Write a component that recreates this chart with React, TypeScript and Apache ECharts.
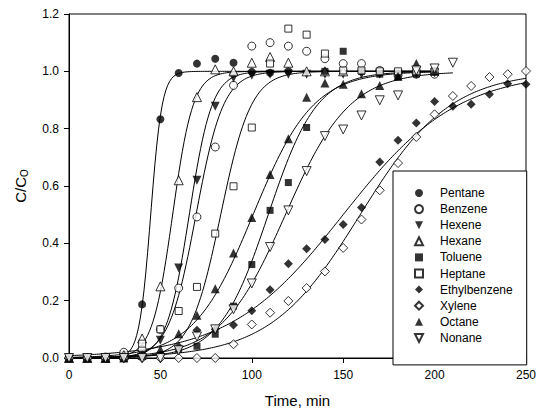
import React, { useEffect, useRef } from "react";
import * as echarts from "echarts";

// ---- data: [time (min), C/C0] ----
const seriesNames = ["Pentane", "Benzene", "Hexene", "Hexane", "Toluene", "Heptane", "Ethylbenzene", "Xylene", "Octane", "Nonane"];

const pentane = [[0, 0], [10, 0], [20, 0.005], [30, 0.01], [40, 0.187], [50, 0.833], [60, 0.994], [70, 1.027], [80, 1.044], [90, 1.03], [100, 0.998], [110, 0.995], [120, 1.0]];
const benzene = [[0, 0], [10, 0], [20, 0], [30, 0.02], [40, 0.03], [50, 0.1], [60, 0.244], [70, 0.492], [80, 0.736], [90, 0.951], [100, 1.088], [110, 1.1], [120, 1.088], [130, 1.07], [140, 1.044], [150, 1.027], [160, 1.027], [170, 1.003], [180, 0.986], [190, 0.99], [200, 0.99]];
const hexene = [[0, 0], [10, 0], [20, 0], [30, 0], [40, 0.01], [50, 0.062], [60, 0.314], [70, 0.62], [80, 0.878], [90, 0.977], [100, 0.986], [110, 0.99], [120, 0.99], [130, 0.99], [140, 0.99], [150, 0.99], [160, 0.99], [170, 0.99], [180, 0.99], [190, 0.99], [200, 0.995]];
const hexane = [[0, 0], [10, 0], [20, 0], [30, 0.01], [40, 0.068], [50, 0.25], [60, 0.62], [70, 0.91], [80, 1.007], [90, 1.0], [100, 1.03], [110, 1.05], [120, 1.03], [130, 1.0], [140, 1.0], [150, 1.0]];
const toluene = [[0, 0], [10, 0], [20, 0], [30, 0], [40, 0.005], [50, 0.01], [60, 0.03], [70, 0.041], [80, 0.083], [90, 0.181], [100, 0.326], [110, 0.515], [120, 0.612], [130, 0.804], [140, 1.0], [150, 1.07], [160, 1.0], [170, 0.99], [180, 0.98], [190, 0.99], [200, 1.0]];
const heptane = [[0, 0], [10, 0], [20, 0], [30, 0], [40, 0.05], [50, 0.1], [60, 0.164], [70, 0.248], [80, 0.434], [90, 0.599], [100, 0.804], [110, 1.027], [120, 1.149], [130, 1.128], [140, 1.062], [150, 1.003], [160, 1.003], [170, 1.0], [180, 1.0], [190, 1.0], [200, 1.0]];
const ethylbenzene = [[0, 0], [10, 0], [20, 0], [30, 0], [40, 0], [50, 0.01], [60, 0.04], [70, 0.097], [80, 0.1], [90, 0.115], [100, 0.165], [110, 0.238], [120, 0.329], [130, 0.381], [140, 0.413], [150, 0.466], [160, 0.525], [170, 0.684], [180, 0.76], [190, 0.82], [200, 0.895], [210, 0.878], [220, 0.885], [230, 0.92], [240, 0.957], [250, 0.955]];
const xylene = [[0, 0], [10, 0], [20, 0], [30, 0], [40, 0], [50, 0], [60, 0], [70, 0], [80, 0], [90, 0.048], [100, 0.117], [110, 0.158], [120, 0.199], [130, 0.244], [140, 0.302], [150, 0.384], [160, 0.483], [170, 0.585], [180, 0.68], [190, 0.771], [200, 0.85], [210, 0.914], [220, 0.949], [230, 0.98], [240, 0.99], [250, 1.001]];
const octane = [[0, 0], [10, 0], [20, 0], [30, 0], [40, 0.01], [50, 0.03], [60, 0.085], [70, 0.149], [80, 0.242], [90, 0.366], [100, 0.49], [110, 0.64], [120, 0.765], [130, 0.91], [140, 0.959], [150, 0.955], [160, 0.922], [170, 0.951], [180, 0.983], [190, 1.027], [200, 1.0]];
const nonane = [[0, 0], [10, 0], [20, 0], [30, 0], [40, 0], [50, 0], [60, 0.027], [70, 0.075], [80, 0.1], [90, 0.17], [100, 0.26], [110, 0.387], [120, 0.515], [130, 0.652], [140, 0.774], [150, 0.797], [160, 0.846], [170, 0.899], [180, 0.916], [190, 1.003], [200, 1.01], [210, 1.03]];

const seriesData = [pentane, benzene, hexene, hexane, toluene, heptane, ethylbenzene, xylene, octane, nonane];

// fitted breakthrough curves (logistic / Thomas model), parameters
const fitT50 = [44.7, 69.5, 65.8, 56.7, 109, 83, 150, 159.3, 100.7, 118.4];
const fitRate = [0.32, 0.134, 0.161, 0.179, 0.075, 0.12, 0.032, 0.0406, 0.061, 0.057];
const fitEnd = [200, 200, 200, 200, 200, 200, 250, 250, 200, 210];

const xTicks = { min: 0, max: 250, interval: 50 };
const yTicks = { min: 0, max: 1.2, interval: 0.2 };

// ---- styles ----
const DOWN_TRI = "path://M0,0L2,0L1,2Z";
const markerSymbol = ["circle", "circle", DOWN_TRI, "triangle", "rect", "rect", "diamond", "diamond", "triangle", DOWN_TRI];
const markerFilled = [true, false, true, false, true, false, true, false, true, false];
const markerSize = [8, 8, 9, 9, 7, 7, 9, 9, 9, 9];

const FONT = "'Liberation Sans', Arial, sans-serif";

function fitCurve(i: number) {
  const pts: number[][] = [];
  for (let t = 0; t <= fitEnd[i]; t += 1) {
    pts.push([t, 1 / (1 + Math.exp(-fitRate[i] * (t - fitT50[i])))]);
  }
  return pts;
}

export default function App() {
  const ref = useRef<HTMLDivElement>(null);
  useEffect(() => {
    if (!ref.current) return;
    const chart = echarts.init(ref.current, undefined, { renderer: "svg" });
    const lines = seriesNames.map((n, i) => ({
      name: n + " fit",
      type: "line",
      data: fitCurve(i),
      showSymbol: false,
      symbol: "none",
      smooth: false,
      lineStyle: { color: "#000", width: 1 },
      z: 2,
      silent: true,
    }));
    const points = seriesNames.map((n, i) => ({
      name: n,
      type: "scatter",
      data: seriesData[i],
      symbol: markerSymbol[i],
      symbolSize: markerSize[i],
      itemStyle: markerFilled[i]
        ? { color: "#000", borderColor: "#000", borderWidth: 0 }
        : { color: "#fff", borderColor: "#000", borderWidth: 1 },
      z: 3,
    }));
    chart.setOption({
      animation: false,
      textStyle: { fontFamily: FONT, color: "#000" },
      grid: { left: 69, right: 10, top: 14, bottom: 56, show: true, borderColor: "#000", borderWidth: 1, backgroundColor: "transparent" },
      legend: {
        data: seriesNames,
        orient: "vertical",
        left: 393,
        top: 171,
        itemWidth: 8,
        itemHeight: 8,
        itemGap: 4.1,
        padding: [16, 14, 21, 21],
        borderColor: "#000",
        borderWidth: 1,
        backgroundColor: "#fff",
        textStyle: { fontSize: 12, fontFamily: FONT, color: "#000", padding: [0, 0, 0, 12] },
        selectedMode: false,
      },
      xAxis: {
        type: "value",
        ...xTicks,
        name: "Time, min",
        nameLocation: "middle",
        nameGap: 35,
        nameTextStyle: { fontSize: 15, fontFamily: FONT, color: "#000" },
        axisLine: { show: true, lineStyle: { color: "#000", width: 1 } },
        axisTick: { show: true, inside: false, length: 5, lineStyle: { color: "#000" } },
        axisLabel: { fontSize: 12, color: "#000", margin: 11, fontFamily: FONT },
        splitLine: { show: false },
      },
      yAxis: {
        type: "value",
        ...yTicks,
        name: "{a|C/C}{b|O}",
        nameLocation: "middle",
        nameGap: 40,
        nameTextStyle: {
          fontFamily: FONT,
          color: "#000",
          rich: {
            a: { fontSize: 15, fontFamily: FONT, color: "#000" },
            b: { fontSize: 10, fontFamily: FONT, color: "#000", padding: [7, 0, 0, 0] },
          },
        },
        axisLine: { show: true, lineStyle: { color: "#000", width: 1 } },
        axisTick: { show: true, inside: false, length: 5, lineStyle: { color: "#000" } },
        axisLabel: { fontSize: 12, color: "#000", margin: 10, fontFamily: FONT, formatter: (v: number) => v.toFixed(1) },
        splitLine: { show: false },
      },
      series: [...lines, ...points],
    });
    return () => chart.dispose();
  }, []);
  return <div ref={ref} style={{ width: 539, height: 414, position: "absolute", left: 0, top: 0 }} />;
}
